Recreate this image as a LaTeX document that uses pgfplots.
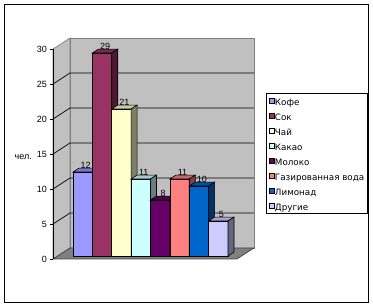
\documentclass[border=0pt]{standalone}
\usepackage{fontspec}
\setmainfont{Liberation Sans}
\newfontfamily\legfont{DejaVu Sans}
\usepackage{pgfplots}
\pgfplotsset{compat=1.18}
\definecolor{kofe}{HTML}{9999FF}
\definecolor{sok}{HTML}{993366}
\definecolor{chai}{HTML}{FFFFCC}
\definecolor{kakao}{HTML}{CCFFFF}
\definecolor{moloko}{HTML}{660066}
\definecolor{gaz}{HTML}{FF8080}
\definecolor{limonad}{HTML}{0066CC}
\definecolor{drugie}{HTML}{CCCCFF}
\definecolor{wall}{HTML}{C0C0C0}
\definecolor{floorc}{HTML}{808080}
\definecolor{wedge}{HTML}{808080}
\newcommand\f{\fontsize{9}{10}\selectfont}
\newcommand\fl{\legfont\fontsize{8.75}{10}\selectfont}
% #1 left x, #2 right x, #3 value, #4 colour, #5 legend text
\newcommand\cuboid[5]{%
  \addplot3[fill=#4, draw=black, line width=0.6pt] coordinates {(#1,0,0) (#2,0,0) (#2,0,#3) (#1,0,#3)} -- cycle;
  \addlegendentry{#5}
  \addplot3[forget plot, fill=#4!80!black, draw=black, line width=0.6pt] coordinates {(#1,0,#3) (#2,0,#3) (#2,1,#3) (#1,1,#3)} -- cycle;
  \addplot3[forget plot, fill=#4!50!black, draw=black, line width=0.6pt] coordinates {(#2,0,0) (#2,1,0) (#2,1,#3) (#2,0,#3)} -- cycle;
}
\begin{document}
\begin{tikzpicture}
\path[use as bounding box] (0,0) rectangle (373pt,307pt);
\draw[line width=1pt] (4.5pt,4.5pt) rectangle (368.5pt,302.5pt);
\begin{axis}[
  at={(73pt,51pt)}, anchor=origin,
  x={(19.375pt,0pt)}, y={(6pt,3.9pt)}, z={(0pt,7pt)},
  xmin=-1, xmax=10, ymin=-1, ymax=3, zmin=0, zmax=31,
  hide axis, clip=false,
  /pgf/number format/assume math mode=true,
  legend image code/.code={\draw[#1, draw=black, line width=0.6pt] (0pt,-2.25pt) rectangle (4.5pt,2.25pt);},
  legend style={at={(axis cs:9.961,0,23.29)}, anchor=north west,
    draw=black, line width=0.8pt, fill=white, font=\fl,
    inner xsep=3pt, inner ysep=1.65pt, row sep=3pt, column sep=0pt,
    cells={anchor=west},
    nodes={inner sep=0.5pt, text height=10.15pt, text depth=0.85pt}},
]
% walls and floor
\addplot3[forget plot, fill=wall, draw=wedge, line width=0.7pt] coordinates {(-0.79,2.05,0) (8.70,2.05,0) (8.70,2.05,30) (-0.79,2.05,30)} -- cycle;
\addplot3[forget plot, fill=wall, draw=wedge, line width=0.7pt] coordinates {(-0.79,-0.77,0) (-0.79,-0.77,30) (-0.79,2.05,30) (-0.79,2.05,0)} -- cycle;
\addplot3[forget plot, fill=floorc, draw=black!75, line width=0.7pt] coordinates {(-0.79,-0.77,0) (8.70,-0.77,0) (8.70,2.05,0) (-0.79,2.05,0)} -- cycle;
\pgfplotsinvokeforeach{5,10,15,20,25}{
  \addplot3[forget plot, black, line width=0.7pt] coordinates {(-0.79,-0.77,#1) (-0.79,2.05,#1) (8.70,2.05,#1)};
}
% bars
\cuboid{0}{1}{12}{kofe}{Кофе}
\cuboid{1}{2}{29}{sok}{Сок}
\cuboid{2}{3}{21}{chai}{Чай}
\cuboid{3}{4}{11}{kakao}{Какао}
\cuboid{4}{5}{8}{moloko}{Молоко}
\cuboid{5}{6}{11}{gaz}{Газированная вода}
\cuboid{6}{7}{10}{limonad}{Лимонад}
\cuboid{7}{8}{5}{drugie}{Другие}
% value labels
\addplot3[forget plot, draw=none, mark=none, nodes near coords, point meta=z,
  every node near coord/.append style={anchor=south, inner sep=0pt, yshift=1pt, font=\f, text=black}]
  coordinates {(0.5,0.5,12) (1.5,0.5,29) (2.5,0.5,21) (3.5,0.5,11) (4.5,0.5,8) (5.5,0.5,11) (6.5,0.5,10) (7.5,0.5,5)};
\end{axis}
\begin{axis}[
  at={(53pt,48pt)}, anchor=south west,
  x=1pt, y=7pt, xmin=0, xmax=1, ymin=0, ymax=30,
  axis x line=none, axis y line*=left,
  ytick={0,5,...,30}, tick align=outside, major tick length=3pt,
  tick style={black, line width=0.7pt}, axis line style={black, line width=0.7pt},
  /pgf/number format/assume math mode=true,
  yticklabel style={font=\f, inner sep=0pt, xshift=-3pt},
  ylabel={чел.},
  every axis y label/.style={at={(axis cs:0,14.57)}, anchor=east, inner sep=0pt, xshift=-21pt, font=\f},
]
\addplot[draw=none, forget plot] coordinates {(0,0) (1,30)};
\end{axis}
\end{tikzpicture}
\end{document}
